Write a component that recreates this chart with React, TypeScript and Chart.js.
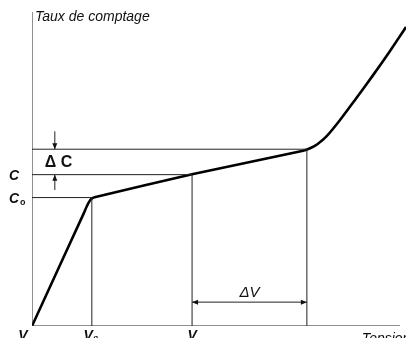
import React, { useEffect, useRef } from "react";
import { Chart, registerables } from "chart.js";
Chart.register(...registerables);

// Counting rate (arbitrary units) vs voltage (arbitrary units)
const curveX = [0, 13.8, 14.6, 15.3, 16.0, 17.0, 42.8, 72.5, 74.5, 76.3, 78.6, 82.1, 86.6, 91.2, 95.5, 100];
const curveY = [0, 35.8, 38.0, 39.6, 40.6, 41.1, 48.3, 55.8, 56.7, 57.9, 60.2, 65.2, 72.4, 79.9, 87.2, 95.2];
const V0 = 16.0;
const V1 = 42.8;
const V2 = 73.5;
const C0 = 40.9;
const C1 = 48.2;
const C2 = 56.3;
const xAxisEnd = 98.4;
const yAxisTop = 100;
const dCx = 6.1;
const dCTop = 62;
const dCBottom = 43.3;
const dVy = 7.6;

const thin = { borderColor: "#222", borderWidth: 1, pointRadius: 0, showLine: true, fill: false };

const annot = {
  id: "annot",
  afterDatasetsDraw(chart: any) {
    const ctx = chart.ctx;
    const xs = chart.scales.x;
    const ys = chart.scales.y;
    const px = (v: number) => xs.getPixelForValue(v);
    const py = (v: number) => ys.getPixelForValue(v);
    ctx.save();
    ctx.strokeStyle = "#222";
    ctx.fillStyle = "#111";
    ctx.lineWidth = 1;
    const head = (x: number, y: number, dx: number, dy: number) => {
      const L = 6, W = 2.5;
      const bx = x - dx * L, by = y - dy * L;
      ctx.beginPath();
      ctx.moveTo(x, y);
      ctx.lineTo(bx - dy * W, by + dx * W);
      ctx.lineTo(bx + dy * W, by - dx * W);
      ctx.closePath();
      ctx.fill();
    };
    // ΔC arrows
    const ax = px(dCx);
    ctx.beginPath();
    ctx.moveTo(ax, py(dCTop));
    ctx.lineTo(ax, py(C2));
    ctx.stroke();
    head(ax, py(C2), 0, 1);
    ctx.beginPath();
    ctx.moveTo(ax, py(dCBottom));
    ctx.lineTo(ax, py(C1));
    ctx.stroke();
    head(ax, py(C1), 0, -1);
    // ΔV arrow
    const ay = py(dVy);
    ctx.beginPath();
    ctx.moveTo(px(V1), ay);
    ctx.lineTo(px(V2), ay);
    ctx.stroke();
    head(px(V1), ay, -1, 0);
    head(px(V2), ay, 1, 0);

    // texts
    ctx.fillStyle = "#111";
    ctx.textBaseline = "alphabetic";
    ctx.textAlign = "left";
    ctx.font = "italic 14px 'Liberation Sans', Arial, sans-serif";
    ctx.fillText("Taux de comptage", px(0) + 3, py(yAxisTop) + 9);
    ctx.fillText("Tension", px(88.2), py(0) + 17);

    ctx.font = "bold 16px 'Liberation Sans', Arial, sans-serif";
    ctx.fillText("Δ C", px(3.4), py(52.4) + 6);

    ctx.font = "italic bold 14px 'Liberation Sans', Arial, sans-serif";
    ctx.textAlign = "left";
    ctx.fillText("C", px(0) - 23, py(C1) + 5);
    ctx.fillText("C", px(0) - 23, py(C0) + 5);
    ctx.font = "bold 9px 'Liberation Sans', Arial, sans-serif";
    ctx.fillText("o", px(0) - 12, py(C0) + 7);

    ctx.font = "italic 15px 'Liberation Sans', Arial, sans-serif";
    ctx.textAlign = "center";
    ctx.fillText("ΔV", px((V1 + V2) / 2), py(dVy) - 5);

    ctx.font = "italic bold 14px 'Liberation Sans', Arial, sans-serif";
    ctx.textBaseline = "top";
    ctx.fillText("V", px(0) - 9, py(0) + 3);
    ctx.fillText("V₀", px(V0) - 1, py(0) + 3);
    ctx.fillText("V", px(V1), py(0) + 3);
    ctx.restore();
  },
};

export default function App() {
  const ref = useRef<HTMLCanvasElement>(null);
  useEffect(() => {
    const pts = (xs: number[], ys: number[]) => xs.map((x, i) => ({ x, y: ys[i] }));
    const chart = new Chart(ref.current!, {
      type: "scatter",
      data: {
        datasets: [
          { ...thin, data: pts([0, 0], [0, yAxisTop]) },
          { ...thin, data: pts([0, xAxisEnd], [0, 0]) },
          { ...thin, data: pts([V0, V0], [0, C0]) },
          { ...thin, data: pts([V1, V1], [0, C1]) },
          { ...thin, data: pts([V2, V2], [0, C2]) },
          { ...thin, data: pts([0, V0], [C0, C0]) },
          { ...thin, data: pts([0, V1], [C1, C1]) },
          { ...thin, data: pts([0, V2], [C2, C2]) },
          {
            data: pts(curveX, curveY),
            showLine: true,
            borderColor: "#000",
            borderWidth: 2.6,
            borderJoinStyle: "round",
            pointRadius: 0,
            tension: 0.25,
            fill: false,
          } as any,
        ],
      },
      options: {
        responsive: false,
        animation: false,
        layout: { padding: { left: 32, right: 0, top: 12, bottom: 12 } },
        plugins: { legend: { display: false }, tooltip: { enabled: false } },
        scales: {
          x: { type: "linear", min: 0, max: 100, display: false },
          y: { type: "linear", min: 0, max: 100, display: false },
        },
      },
      plugins: [annot],
    });
    return () => chart.destroy();
  }, []);
  return (
    <div style={{ position: "fixed", left: 0, top: 0, width: 406, height: 338, background: "#fff" }}>
      <canvas ref={ref} width={406} height={338} />
    </div>
  );
}
